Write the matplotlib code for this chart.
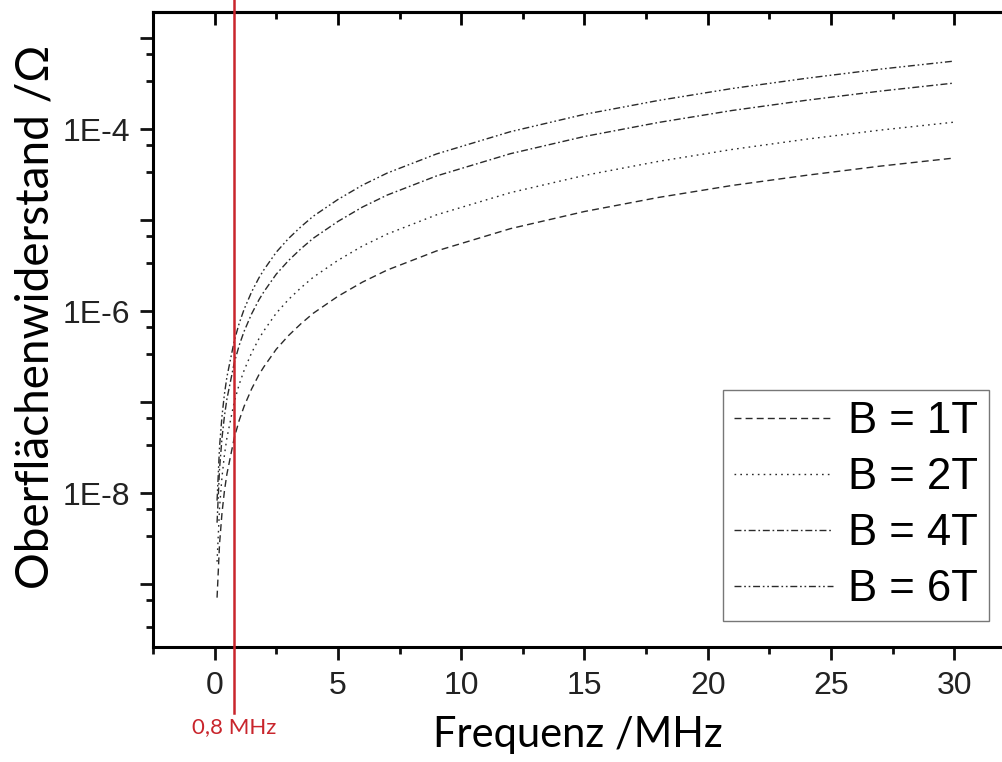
import math
import matplotlib
matplotlib.use("Agg")
import matplotlib.pyplot as plt
import matplotlib.transforms as mtransforms
from matplotlib.ticker import FixedLocator, FuncFormatter, NullFormatter

# values (frequency in MHz, resistance in Ohm)
freq = [0.1, 0.2, 0.3, 0.4, 0.5, 0.8, 1.0, 1.2, 1.5, 1.8, 2.0, 2.5, 3.0, 3.5, 4.0,
        5, 6, 7, 9, 12, 15, 18, 21, 24, 27, 30]
r_1t = [7.08e-10, 2.75e-9, 6.03e-9, 1.06e-8, 1.62e-8, 4.07e-8, 6.32e-8, 9.02e-8, 1.39e-7,
        2.0e-7, 2.44e-7, 3.80e-7, 5.38e-7, 7.24e-7, 9.44e-7, 1.45e-6, 2.08e-6, 2.82e-6,
        4.57e-6, 8.04e-6, 1.24e-5, 1.77e-5, 2.40e-5, 3.10e-5, 3.91e-5, 4.80e-5]
r_2t = [1.76e-9, 6.85e-9, 1.50e-8, 2.64e-8, 4.04e-8, 1.01e-7, 1.57e-7, 2.24e-7, 3.47e-7,
        4.97e-7, 6.08e-7, 9.46e-7, 1.34e-6, 1.80e-6, 2.35e-6, 3.60e-6, 5.18e-6, 7.01e-6,
        1.14e-5, 2.0e-5, 3.09e-5, 4.41e-5, 5.97e-5, 7.73e-5, 9.73e-5, 1.19e-4]
r_4t = [4.72e-9, 1.84e-8, 4.02e-8, 7.06e-8, 1.08e-7, 2.72e-7, 4.22e-7, 6.01e-7, 9.29e-7,
        1.33e-6, 1.63e-6, 2.54e-6, 3.59e-6, 4.83e-6, 6.30e-6, 9.64e-6, 1.39e-5, 1.88e-5,
        3.05e-5, 5.36e-5, 8.28e-5, 1.18e-4, 1.60e-4, 2.07e-4, 2.61e-4, 3.20e-4]
r_6t = [8.24e-9, 3.21e-8, 7.01e-8, 1.23e-7, 1.89e-7, 4.74e-7, 7.36e-7, 1.05e-6, 1.62e-6,
        2.32e-6, 2.84e-6, 4.43e-6, 6.27e-6, 8.43e-6, 1.10e-5, 1.68e-5, 2.42e-5, 3.28e-5,
        5.32e-5, 9.35e-5, 1.45e-4, 2.06e-4, 2.79e-4, 3.61e-4, 4.55e-4, 5.58e-4]
labels = ["B = 1T", "B = 2T", "B = 4T", "B = 6T"]
marker_freq = 0.8
marker_label = "0,8 MHz"

tick_font = "Liberation Sans"
label_font = "Lato"
red = "#c9252c"

fig = plt.figure(figsize=(10.03, 7.62), dpi=100)
ax = fig.add_axes([0.1525, 0.1509, 0.8604, 0.8333])
ax.set_yscale("log")

styles = [(0, (5, 3)), (0, (1.2, 3)), (0, (5, 2, 1.2, 2)), (0, (5, 2, 1.2, 2, 1.2, 2))]
for r, lab, ls in zip([r_1t, r_2t, r_4t, r_6t], labels, styles):
    ax.plot(freq, r, color="#2a2a2a", lw=1.0, linestyle=ls, label=lab)

ax.set_xlim(-2.5, 32.5)
ax.set_ylim(2.03e-10, 1.93e-3)

# y ticks: every decade, labels only on even exponents, minor at 1/3 and 2/3
major_y = [10.0 ** e for e in range(-10, -1)]
minor_y = [m * 10.0 ** e for e in range(-11, -2) for m in (3.333, 6.667)]


def fmt_y(v, pos):
    e = round(math.log10(v))
    return "1E%d" % e if e % 2 == 0 else ""


ax.yaxis.set_major_locator(FixedLocator(major_y))
ax.yaxis.set_minor_locator(FixedLocator(minor_y))
ax.yaxis.set_major_formatter(FuncFormatter(fmt_y))
ax.yaxis.set_minor_formatter(NullFormatter())
ax.xaxis.set_major_locator(FixedLocator(range(0, 31, 5)))
ax.xaxis.set_minor_locator(FixedLocator([-2.5 + 5 * i for i in range(8)]))

for s in ax.spines.values():
    s.set_linewidth(2.2)
ax.tick_params(which="major", direction="out", length=9.5, width=2.0,
               labelsize=23, color="#111111")
ax.tick_params(which="minor", direction="out", length=5, width=2.0, color="#111111")
ax.tick_params(axis="x", pad=8)
ax.tick_params(axis="y", pad=7)
for t in ax.get_xticklabels() + ax.get_yticklabels():
    t.set_fontfamily(tick_font)
    t.set_color("#222222")

# inward ticks on top and right
top = ax.secondary_xaxis("top")
top.xaxis.set_major_locator(FixedLocator(range(0, 31, 5)))
top.xaxis.set_minor_locator(FixedLocator([-2.5 + 5 * i for i in range(8)]))
top.tick_params(which="major", direction="in", length=9, width=2.0, labeltop=False)
top.tick_params(which="minor", direction="in", length=5, width=2.0)
top.spines["top"].set_linewidth(2.2)

right = ax.secondary_yaxis("right")
right.yaxis.set_major_locator(FixedLocator(major_y))
right.yaxis.set_minor_locator(FixedLocator(minor_y))
right.tick_params(which="major", direction="in", length=9, width=2.0, labelright=False)
right.tick_params(which="minor", direction="in", length=5, width=2.0, labelright=False)
right.spines["right"].set_linewidth(2.2)

ax.set_xlabel("Frequenz /MHz", fontsize=30, family=label_font)
ax.xaxis.set_label_coords(0.492, -0.108)
ax.set_ylabel("Oberflächenwiderstand /Ω", fontsize=33, family=label_font)
ax.yaxis.set_label_coords(-0.112, 0.52)

# red marker line at 0.8 MHz
ax.axvline(marker_freq, ymin=-0.104, ymax=1.03, color=red, lw=1.8, clip_on=False, zorder=5)
trans = mtransforms.blended_transform_factory(ax.transData, ax.transAxes)
ax.text(marker_freq, -0.126, marker_label, transform=trans, ha="center", va="center",
        color=red, fontsize=16, family=label_font)

leg = ax.legend(loc="upper left", bbox_to_anchor=(723 / 1003, 1 - 390 / 762),
                bbox_transform=fig.transFigure, fancybox=False, framealpha=1,
                edgecolor="#777777", prop={"family": tick_font, "size": 31.5},
                handlelength=2.25, handletextpad=0.34, labelspacing=0.34,
                borderpad=0.26, borderaxespad=0)
leg.get_frame().set_linewidth(1.0)

fig.savefig("out.png", dpi=100)
